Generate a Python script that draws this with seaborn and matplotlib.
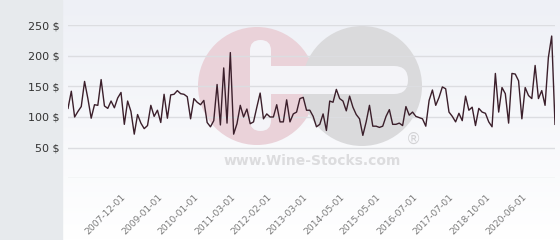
import numpy as np
import pandas as pd
import matplotlib
matplotlib.use("Agg")
import matplotlib.pyplot as plt
from matplotlib.patches import Rectangle, Circle, FancyBboxPatch
import seaborn as sns

# ---- data ----
prices = [
    114, 142, 100, 109, 117, 158, 130, 98, 120, 119,
    161, 118, 114, 126, 115, 131, 140, 88, 126, 109,
    72, 104, 90, 81, 86, 119, 101, 111, 91, 137,
    98, 136, 137, 143, 138, 137, 133, 97, 130, 124,
    120, 127, 91, 84, 94, 153, 87, 180, 90, 205,
    72, 89, 119, 100, 113, 89, 92, 116, 139, 97,
    105, 100, 100, 120, 92, 92, 128, 92, 105, 108,
    130, 132, 111, 111, 101, 84, 88, 105, 78, 126,
    124, 145, 130, 126, 110, 134, 116, 104, 97, 70,
    92, 119, 85, 85, 83, 85, 101, 112, 88, 88,
    90, 86, 117, 103, 108, 101, 99, 97, 85, 127,
    144, 119, 132, 149, 146, 108, 101, 92, 106, 94,
    134, 111, 116, 86, 114, 108, 106, 92, 84, 171,
    108, 148, 138, 90, 171, 170, 159, 97, 148, 135,
    130, 184, 130, 143, 119, 197, 232, 88,
]
tick_labels = ["2007-12-01", "2009-01-01", "2010-01-01", "2011-03-01",
               "2012-02-01", "2013-03-01", "2014-05-01", "2015-05-01",
               "2016-07-01", "2017-07-01", "2018-10-01", "2020-06-01"]
y_ticks = [0, 50, 100, 150, 200, 250]

first_label_idx = 16
label_step = 11

df = pd.DataFrame({"idx": np.arange(len(prices)), "price": prices})

W, H = 560, 240
fig = plt.figure(figsize=(W / 100, H / 100), dpi=100)

# ---- background layer (pixel coordinates) ----
bg = fig.add_axes([0, 0, 1, 1], zorder=0)
bg.set_xlim(0, W)
bg.set_ylim(H, 0)
bg.axis("off")
top_c = np.array(matplotlib.colors.to_rgb("#eef0f6"))
bot_c = np.array(matplotlib.colors.to_rgb("#ffffff"))
t = np.linspace(0, 1, 240)[:, None]
grad = top_c[None, :] * (1 - t) + bot_c[None, :] * t
grad = np.repeat(grad[:, None, :], 2, axis=1)
bg.imshow(grad, extent=(63, W, H, 0), aspect="auto", zorder=0)
bg.add_patch(Rectangle((0, 0), 62, H, color="#e7eaed", zorder=1))

# watermark
bg.add_patch(Circle((257, 86), 59, color="#ead2d9", zorder=2, lw=0))
bg.add_patch(Circle((362, 86), 60, color="#dadadc", zorder=2, lw=0))
bar_c = "#f4f4f8"
bg.add_patch(FancyBboxPatch((250, 40), 21, 91, boxstyle="round,pad=0,rounding_size=10.5",
                            color=bar_c, zorder=3, lw=0))
bg.add_patch(FancyBboxPatch((250, 66), 158, 28, boxstyle="round,pad=0,rounding_size=14",
                            color=bar_c, zorder=3, lw=0))
bg.text(312, 161, "www.Wine-Stocks.com", ha="center", va="center",
        fontsize=10, fontweight="bold", color="#dcdcde", zorder=3)
bg.text(413, 139, "®", ha="center", va="center", fontsize=11,
        color="#d3d3d5", zorder=3)

# ---- main chart ----
ax = fig.add_axes([68 / W, (H - 178.3) / H, 487 / W, 153.3 / H], zorder=1)
ax.patch.set_alpha(0)
sns.lineplot(data=df, x="idx", y="price", ax=ax, color="#3b1f2b", lw=1.0)

ax.set_xlim(0, len(prices) - 1)
ax.set_ylim(0, 250)
ax.set_yticks(y_ticks)
ax.set_yticklabels(["" if v == 0 else f"{v} $" for v in y_ticks])
ax.tick_params(axis="y", length=0, pad=6, labelsize=8, labelcolor="#333333")
ax.grid(axis="y", color="#dcdde1", lw=1.0)
ax.grid(axis="x", visible=False)
ax.set_axisbelow(True)

pos = df["idx"].iloc[first_label_idx::label_step][:len(tick_labels)]
ax.set_xticks(pos)
ax.set_xticklabels(tick_labels, rotation=45, ha="right", va="top",
                   rotation_mode="anchor")
ax.tick_params(axis="x", length=0, pad=10, labelsize=6.6, labelcolor="#7a7a7a")
ax.set_xlabel("")
ax.set_ylabel("")
for s in ax.spines.values():
    s.set_visible(False)

fig.savefig("out.png", dpi=100)
